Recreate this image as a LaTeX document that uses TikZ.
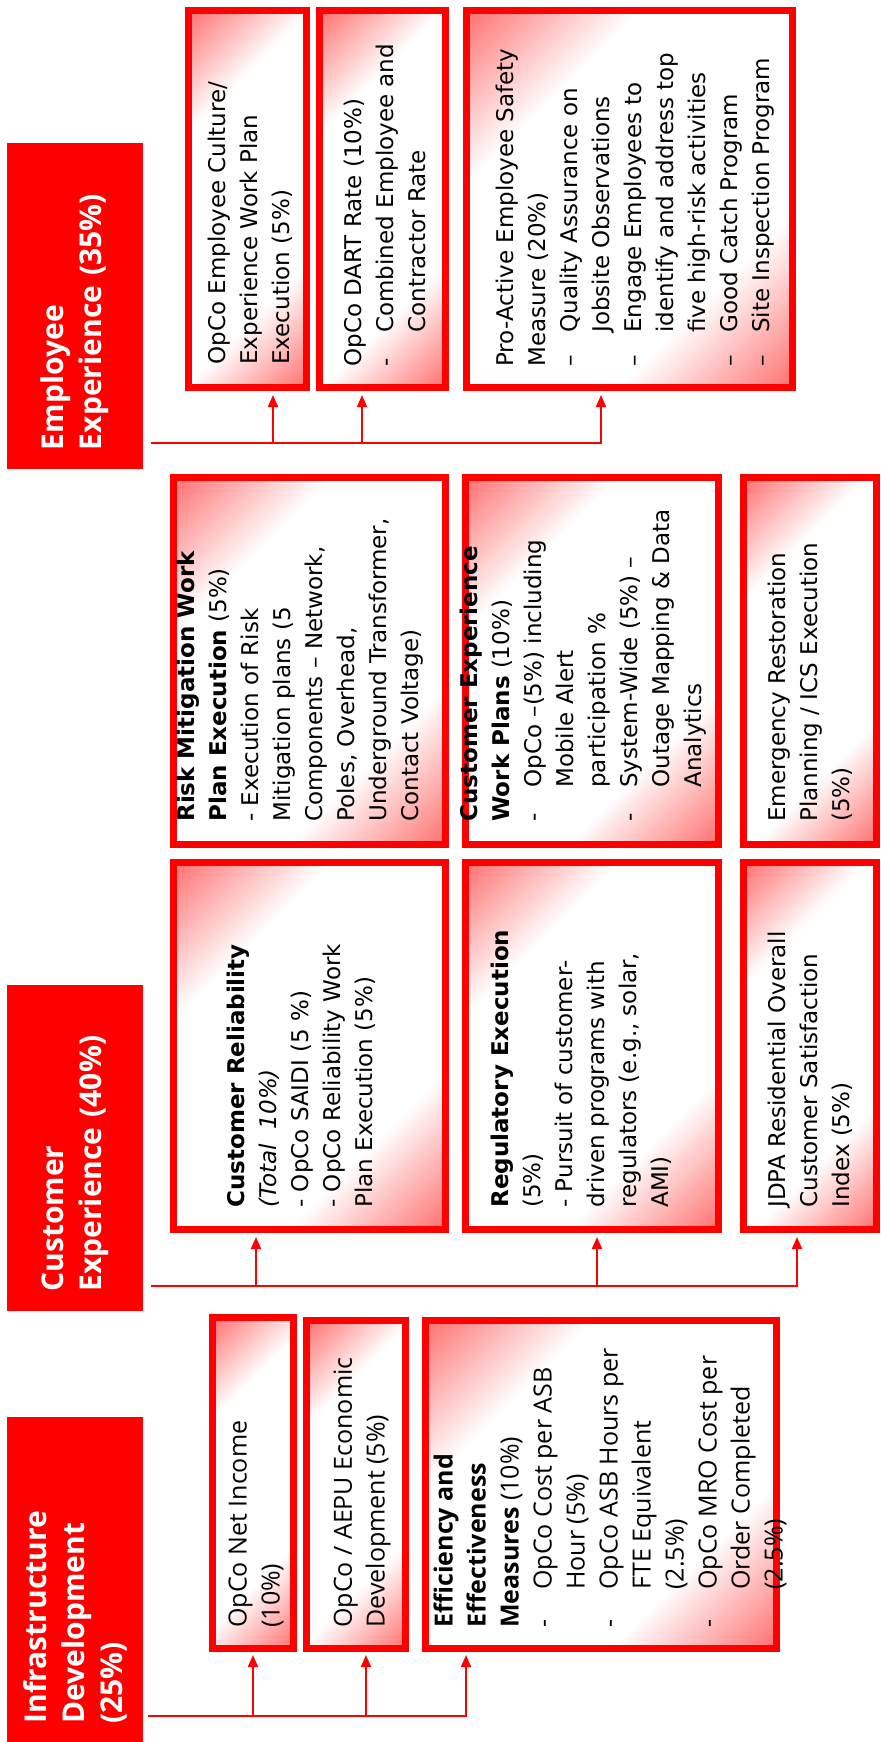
\documentclass[tikz,border=0pt]{standalone}
\usepackage{fontspec}
\setmainfont{DejaVu Sans}
\newfontfamily\opensans{Open Sans}
\usetikzlibrary{arrows.meta}
\definecolor{kpired}{RGB}{255,0,0}
\pgfdeclarehorizontalshading{cardfade}{100bp}{color(0bp)=(kpired); color(6bp)=(kpired!85!white); color(18bp)=(kpired!45!white); color(32bp)=(white); color(68bp)=(white); color(82bp)=(kpired!45!white); color(94bp)=(kpired!85!white); color(100bp)=(kpired)}
\newcommand\itemdash[2][17pt]{\makebox[#1][l]{#2}}
\tikzset{
  header/.style={fill=kpired, text=white, rotate=90, inner sep=0pt, minimum width=163pt,
    minimum height=68pt, text width=144pt, align=left, font=\opensans\bfseries\fontsize{15}{19}\selectfont},
  card/.style={draw=kpired, line width=3.5pt, shading=cardfade, shading angle=-45, inner sep=0pt},
  body/.style={rotate=90, anchor=north west, inner sep=0pt, align=left, font=\fontsize{11.5}{16}\selectfont},
  infobody/.style={body, font=\opensans\fontsize{12.5}{16.5}\selectfont},
  feed/.style={draw=kpired, line width=1pt, -{Triangle[length=6pt,width=5pt]}},
}
\begin{document}
\begin{tikzpicture}[x=0.5pt,y=-0.5pt]
\useasboundingbox (0,0) rectangle (880,1742);
% Kategorien links
\node[header] (eHdr) at (75,306) {Employee\\Experience (35\%)};
\node[header] (cHdr) at (75,1147.5) {Customer\\Experience (40\%)};
\node[header] (iHdr) at (75,1579.5) {Infrastructure\\Development\\(25\%)};
% Employee Experience
\node[card, minimum width=59pt, minimum height=188.5pt] (eCult) at (247.5,199) {};
\node[card, minimum width=63pt, minimum height=188.5pt] (eDart) at (382.5,199) {};
\node[card, minimum width=163pt, minimum height=188.5pt] (eSafe) at (629.5,199) {};
\node[body] (eCultT) at (208,365) {OpCo Employee Culture/\\Experience Work Plan\\Execution (5\%)};
\node[body] (eDartT) at (344,367) {OpCo DART Rate (10\%)\\\itemdash{-}Combined Employee and\\\hspace*{17pt}Contractor Rate};
\node[body] (eSafeT) at (496,367) {Pro-Active Employee Safety\\Measure (20\%)\\\itemdash{–}Quality Assurance on\\\hspace*{17pt}Jobsite Observations\\\itemdash{–}Engage Employees to\\\hspace*{17pt}identify and address top\\\hspace*{17pt}five high-risk activities\\\itemdash{–}Good Catch Program\\\itemdash{–}Site Inspection Program};
% Customer Experience
\node[card, minimum width=136pt, minimum height=183.5pt] (cRisk) at (309.5,661) {};
\node[card, minimum width=126.5pt, minimum height=183.5pt] (cPlan) at (592,661) {};
\node[card, minimum width=66.5pt, minimum height=183.5pt] (cRest) at (810,661) {};
\node[card, minimum width=136pt, minimum height=183.5pt] (cRel) at (309.5,1046) {};
\node[card, minimum width=126.5pt, minimum height=183.5pt] (cReg) at (592,1046) {};
\node[card, minimum width=66.5pt, minimum height=183.5pt] (cSat) at (810,1046) {};
\node[body] (cRiskT) at (177,822) {\textbf{Risk Mitigation Work}\\\textbf{Plan Execution} (5\%)\\- Execution of Risk\\Mitigation plans (5\\Components – Network,\\Poles, Overhead,\\Underground Transformer,\\Contact Voltage)};
\node[body] (cPlanT) at (460,822) {\textbf{Customer Experience}\\\textbf{Work Plans} (10\%)\\\itemdash{-}OpCo –(5\%) including\\\hspace*{17pt}Mobile Alert\\\hspace*{17pt}participation \%\\\itemdash{-}System-Wide (5\%) –\\\hspace*{17pt}Outage Mapping \& Data\\\hspace*{17pt}Analytics};
\node[body] (cRestT) at (768,822) {Emergency Restoration\\Planning / ICS Execution\\(5\%)};
\node[body] (cRelT) at (227,1208) {\textbf{Customer Reliability}\\\textit{(Total\ \ 10\%)}\\- OpCo SAIDI (5 \%)\\- OpCo Reliability Work\\Plan Execution (5\%)};
\node[body] (cRegT) at (491,1208) {\textbf{Regulatory Execution}\\(5\%)\\- Pursuit of customer-\\driven programs with\\regulators (e.g., solar,\\AMI)};
\node[body] (cSatT) at (768,1208) {JDPA Residential Overall\\Customer Satisfaction\\Index (5\%)};
% Infrastructure Development
\node[card, minimum width=40.5pt, minimum height=165.5pt] (iNet) at (253,1483) {};
\node[card, minimum width=49.5pt, minimum height=164pt] (iEcon) at (356,1484.5) {};
\node[card, minimum width=175.5pt, minimum height=164pt] (iEff) at (601,1484.5) {};
\node[infobody] (iNetT) at (228,1628) {OpCo Net Income\\(10\%)};
\node[infobody] (iEconT) at (333,1628) {OpCo / AEPU Economic\\Development (5\%)};
\node[infobody] (iEffT) at (433,1628) {\textbf{Efficiency and}\\\textbf{Effectiveness}\\\textbf{Measures} (10\%)\\\itemdash[19pt]{-}OpCo Cost per ASB\\\hspace*{19pt}Hour (5\%)\\\itemdash[19pt]{-}OpCo ASB Hours per\\\hspace*{19pt}FTE Equivalent\\\hspace*{19pt}(2.5\%)\\\itemdash[19pt]{-}OpCo MRO Cost per\\\hspace*{19pt}Order Completed\\\hspace*{19pt}(2.5\%)};
% Verbindungen
\draw[feed] ([shift={(8,-26)}]eHdr.south west) -| ([shift={(25.5,4)}]eCult.south);
\draw[feed] ([shift={(8,-26)}]eHdr.south west) -| ([shift={(-20.5,4)}]eDart.south);
\draw[feed] ([shift={(8,-26)}]eHdr.south west) -| ([shift={(-28.5,4)}]eSafe.south);
\draw[feed] ([shift={(8,-25)}]cHdr.south west) -| ([shift={(-53.5,4)}]cRel.south);
\draw[feed] ([shift={(8,-25)}]cHdr.south west) -| ([shift={(5,4)}]cReg.south);
\draw[feed] ([shift={(8,-25)}]cHdr.south west) -| ([shift={(-13,4)}]cSat.south);
\draw[feed] ([shift={(5,-27)}]iHdr.south west) -| ([shift={(0,3)}]iNet.south);
\draw[feed] ([shift={(5,-27)}]iHdr.south west) -| ([shift={(10,3)}]iEcon.south);
\draw[feed] ([shift={(5,-27)}]iHdr.south west) -| ([shift={(-135,3)}]iEff.south);
\end{tikzpicture}
\end{document}
